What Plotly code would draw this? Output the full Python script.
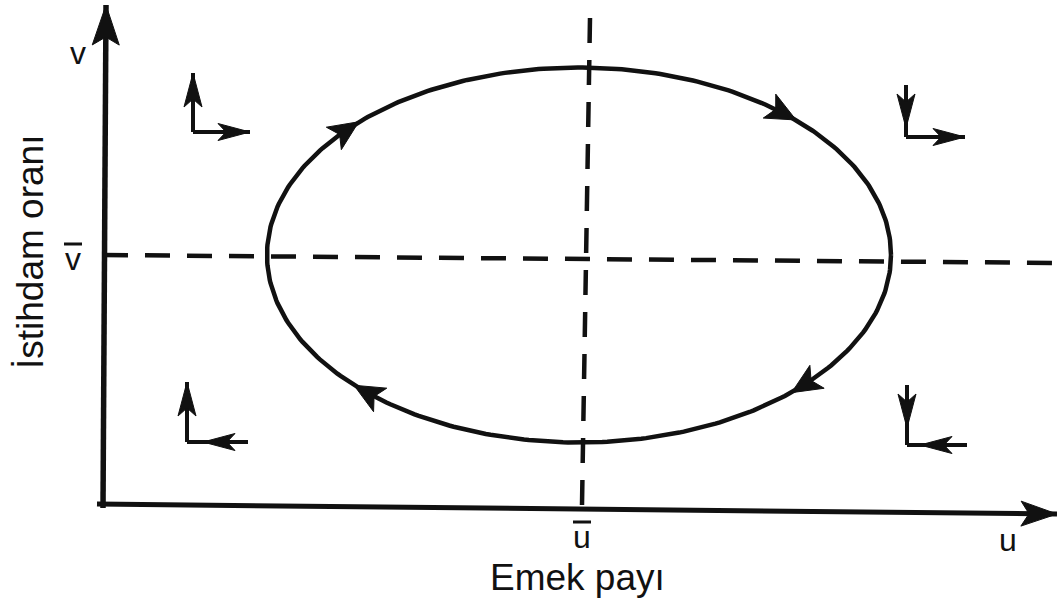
import numpy as np
import plotly.graph_objects as go

# Frame: u = labour share (horizontal), v = employment rate (vertical).
u_range = [-103, 959]
v_range = [-95, 505]

# Axis strokes (start -> arrow tip)
u_axis_u = [-6, 954]
u_axis_v = [1, -9]
v_axis_u = [0, 3]
v_axis_v = [-3, 500]

# Equilibrium guides (dashed)
u_bar = 479
v_bar = 248
v_bar_line_u = [0, 959]
v_bar_line_v = [250, 242]
u_bar_line_u = [487, 479]
u_bar_line_v = [487, 0]

# Closed orbit around the equilibrium, traversed clockwise
orbit_center_u = 476
orbit_center_v = 250
orbit_radius_u = 312
orbit_radius_v = 187.5
orbit_arrow_deg = [138, 49, -44, -133]

# Quadrant direction markers: TL, TR, BL, BR
marker_corner_u = [90, 803, 84, 804]
marker_corner_v = [373, 368, 63, 60]
marker_vend_v = [432, 420, 123, 120]     # far end of the vertical stroke
marker_vtip_v = [432, 377, 123, 77]      # arrow tip on the vertical stroke
marker_hend_u = [147, 862, 145, 864]     # far end of the horizontal stroke
marker_htip_u = [147, 862, 100, 817]     # arrow tip on the horizontal stroke

# Labels
axis_title_u = "Emek payı"
axis_title_v = "İstihdam oranı"

INK = "#111111"
fig = go.Figure()


def add_line(us, vs, width, dash=None):
    fig.add_trace(go.Scatter(
        x=us, y=vs, mode="lines", hoverinfo="skip",
        line=dict(color=INK, width=width, dash=dash),
    ))


def add_head(tip_u, tip_v, du, dv, length, width, notch):
    d = np.array([du, dv], dtype=float)
    d /= np.hypot(*d)
    n = np.array([-d[1], d[0]])
    tip = np.array([tip_u, tip_v], dtype=float)
    back = tip - length * d
    mid = tip - (length - notch) * d
    pts = [tip, back + width / 2 * n, mid, back - width / 2 * n, tip]
    fig.add_trace(go.Scatter(
        x=[p[0] for p in pts], y=[p[1] for p in pts],
        mode="lines", fill="toself", fillcolor=INK, hoverinfo="skip",
        line=dict(color=INK, width=1),
    ))


# Dashed equilibrium lines
add_line(v_bar_line_u, v_bar_line_v, 4.5, dash="25px,17px")
add_line(u_bar_line_u, u_bar_line_v, 4.5, dash="25px,17px")

# Orbit
theta = np.linspace(0, 2 * np.pi, 400)
add_line(orbit_center_u + orbit_radius_u * np.cos(theta),
         orbit_center_v + orbit_radius_v * np.sin(theta), 4.5)
for deg in orbit_arrow_deg:
    t = np.deg2rad(deg)
    pu = orbit_center_u + orbit_radius_u * np.cos(t)
    pv = orbit_center_v + orbit_radius_v * np.sin(t)
    du, dv = orbit_radius_u * np.sin(t), -orbit_radius_v * np.cos(t)
    k = 14 / np.hypot(du, dv)
    add_head(pu + du * k, pv + dv * k, du, dv, 30, 27, 7)

# Axes with arrow heads
add_line(u_axis_u, u_axis_v, 5)
add_line(v_axis_u, v_axis_v, 5.5)
add_head(u_axis_u[1], u_axis_v[1], u_axis_u[1] - u_axis_u[0],
         u_axis_v[1] - u_axis_v[0], 36, 25, 8)
add_head(v_axis_u[1], v_axis_v[1], v_axis_u[1] - v_axis_u[0],
         v_axis_v[1] - v_axis_v[0], 40, 27, 8)

# Quadrant markers
for cu, cv, ve, vt, he, ht in zip(marker_corner_u, marker_corner_v,
                                  marker_vend_v, marker_vtip_v,
                                  marker_hend_u, marker_htip_u):
    add_line([cu, cu], [cv, ve], 4)
    add_line([cu, he], [cv, cv], 4)
    vdir = 1 if vt > cv and vt == ve else -1
    add_head(cu, vt, 0, vdir, 34, 18, 8)
    hdir = 1 if ht == he else -1
    add_head(ht, cv, hdir, 0, 32, 17, 8)

# Text
FAMILY = "Liberation Sans, Arial, sans-serif"
font_small = dict(family=FAMILY, size=32, color=INK)
font_title = dict(family=FAMILY, size=37, color=INK)
# (u, v, text, font, angle, overline)
labels = [
    (-25, 452, "v", font_small, 0, False),
    (-30, 246, "v", font_small, 0, True),
    (u_bar, -32, "u", font_small, 0, True),
    (905, -35, "u", font_small, 0, False),
    (474, -72, axis_title_u, font_title, 0, False),
    (-73, 253, axis_title_v, font_title, -90, False),
]
for lu, lv, txt, fnt, ang, bar in labels:
    fig.add_annotation(x=lu, y=lv, xref="x", yref="y", text=txt,
                       showarrow=False, font=fnt, textangle=ang,
                       xanchor="center", yanchor="middle")
    if bar:
        # overline marking the equilibrium value
        add_line([lu - 9, lu + 9], [lv + 15, lv + 15], 3)

fig.update_layout(
    width=1062, height=600,
    margin=dict(l=0, r=0, t=0, b=0),
    paper_bgcolor="white", plot_bgcolor="white",
    showlegend=False,
    xaxis=dict(range=u_range, visible=False, fixedrange=True),
    yaxis=dict(range=v_range, visible=False, fixedrange=True),
)

fig.write_html("out.html")
